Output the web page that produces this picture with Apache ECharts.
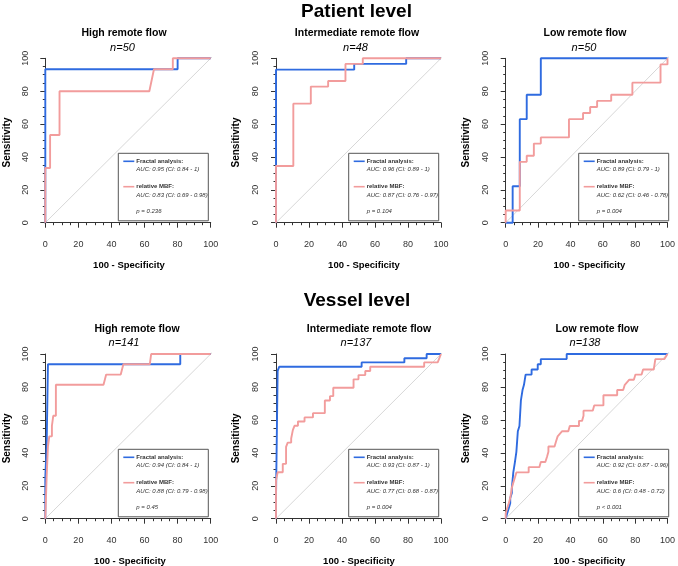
<!DOCTYPE html>
<html>
<head>
<meta charset="utf-8">
<script src="https://cdn.jsdelivr.net/npm/echarts@6/dist/echarts.min.js"></script>
<style>
  html, body { margin: 0; padding: 0; background: #fff; }
  #chart { width: 678px; height: 566px; }
</style>
</head>
<body>
<div id="chart"></div>
<script>
// ROC curves, [100 - specificity, sensitivity] in %
const patientHighFractal = [[0,0],[0,93.3],[80,93.3],[80,100],[100,100]];
const patientHighMbf = [[0,0],[0,33.3],[2.9,33.3],[2.9,53.3],[8.6,53.3],[8.6,80],[62.9,80],[65.7,93.3],[77.1,93.3],[77.1,100],[100,100]];

const patientIntFractal = [[0,0],[0,93.1],[47.4,93.1],[47.4,96.6],[78.9,96.6],[78.9,100],[100,100]];
const patientIntMbf = [[0,0],[0,34.5],[10.5,34.5],[10.5,72.4],[21.1,72.4],[21.1,82.8],[31.6,82.8],[31.6,86.2],[42.1,86.2],[42.1,96.6],[52.6,96.6],[52.6,100],[100,100]];

const patientLowFractal = [[0,0],[4.3,0],[4.3,22.2],[8.7,22.2],[8.7,63],[13,63],[13,77.8],[21.7,77.8],[21.7,100],[100,100]];
const patientLowMbf = [[0,0],[0,7.4],[8.7,7.4],[8.7,37],[13,37],[13,40.7],[17.4,40.7],[17.4,48.1],[21.7,48.1],[21.7,51.9],[39.1,51.9],[39.1,63],[47.8,63],[47.8,66.7],[52.2,66.7],[52.2,70.4],[56.5,70.4],[56.5,74.1],[65.2,74.1],[65.2,77.8],[78.3,77.8],[78.3,85.2],[95.7,85.2],[95.7,96.3],[100,96.3],[100,100]];

const vesselHighFractal = [[0,0],[0,25],[0.8,25],[0.8,43.8],[1.6,43.8],[1.6,93.8],[81.6,93.8],[81.6,100],[100,100]];
const vesselHighMbf = [[0,0],[0.8,0],[0.8,25],[1.6,25],[1.6,43.8],[2.4,43.8],[2.4,50],[4,50],[4,56.3],[4.8,56.3],[4.8,62.5],[6.4,62.5],[6.4,81.3],[35.2,81.3],[36.8,87.5],[45.6,87.5],[47.2,93.8],[63.2,93.8],[64,100],[100,100]];

const vesselIntFractal = [[0,0],[0,12.8],[1,12.8],[1,89.7],[2,89.7],[2,92.3],[51.9,92.3],[51.9,94.9],[77.8,94.9],[77.8,97.4],[91.3,97.4],[91.3,100],[100,100]];
const vesselIntMbf = [[0,0],[0,23.1],[1,23.1],[1,28.2],[4.1,28.2],[4.1,33.3],[6.1,33.3],[6.1,43.6],[7.1,43.6],[7.1,46.2],[9.2,46.2],[9.2,48.7],[10.2,48.7],[10.2,53.8],[11.2,53.8],[11.2,56.4],[13.3,56.4],[13.3,59],[17.3,59],[17.3,61.5],[22.4,61.5],[22.4,64.1],[29.6,64.1],[29.6,71.8],[32.7,71.8],[32.7,74.4],[34.7,74.4],[34.7,79.5],[47,79.5],[47,84.6],[50,84.6],[50,87.2],[54.1,87.2],[54.1,89.7],[57.1,89.7],[57.1,92.3],[89.8,92.3],[89.8,94.9],[98,94.9],[100,100]];

const vesselLowFractal = [[0,0],[0.9,3.1],[1.9,6.3],[2.8,9.4],[2.8,12.5],[3.8,15.6],[3.8,18.8],[4.7,18.8],[4.7,28.1],[5.7,28.1],[5.7,34.4],[6.6,34.4],[6.6,40.6],[7.5,40.6],[7.5,53.1],[8.5,53.1],[8.5,56.3],[9.4,56.3],[9.4,71.9],[10.4,71.9],[10.4,78.1],[11.3,78.1],[11.3,81.3],[12.3,81.3],[12.3,87.5],[16,87.5],[16,90.6],[19.8,90.6],[19.8,93.8],[21.7,93.8],[21.7,96.9],[37.7,96.9],[37.7,100],[100,100]];
const vesselLowMbf = [[0,0],[0,3.1],[0.9,6.3],[1.9,9.4],[2.8,12.5],[3.3,15.6],[3.8,18.8],[4.7,21.9],[5.7,25],[6.6,28.1],[14.2,28.1],[14.2,31.3],[20.8,31.3],[21.7,34.4],[24.5,34.4],[25.5,37.5],[26.4,40.6],[26.4,43.8],[30.2,43.8],[31.1,46.9],[32.1,50],[34.9,53.1],[38.7,53.1],[39.6,56.3],[45.3,56.3],[45.3,59.4],[47.2,59.4],[48.1,62.5],[48.1,65.6],[53.8,65.6],[54.7,68.8],[60.4,68.8],[60.4,75],[68.9,75],[68.9,78.1],[72.6,78.1],[73.6,81.3],[76.4,84.4],[79.2,84.4],[80.2,87.5],[84,87.5],[84.9,90.6],[91.5,90.6],[92.5,96.9],[98.1,96.9],[100,100]];

const diagonal = [-4, 104];

const panelTitles = ['High remote flow', 'Intermediate remote flow', 'Low remote flow', 'High remote flow', 'Intermediate remote flow', 'Low remote flow'];
const sampleSizes = ['n=50', 'n=48', 'n=50', 'n=141', 'n=137', 'n=138'];
const fractalAuc = ['AUC: 0.95 (CI: 0.84 - 1)', 'AUC: 0.96 (CI: 0.89 - 1)', 'AUC: 0.89 (CI: 0.79 - 1)', 'AUC: 0.94 (CI: 0.84 - 1)', 'AUC: 0.93 (CI: 0.87 - 1)', 'AUC: 0.92 (CI: 0.87 - 0.96)'];
const mbfAuc = ['AUC: 0.83 (CI: 0.69 - 0.98)', 'AUC: 0.87 (CI: 0.76 - 0.97)', 'AUC: 0.62 (CI: 0.46 - 0.78)', 'AUC: 0.88 (CI: 0.79 - 0.98)', 'AUC: 0.77 (CI: 0.68 - 0.87)', 'AUC: 0.6 (CI: 0.48 - 0.72)'];
const pValues = ['p = 0.236', 'p = 0.104', 'p = 0.004', 'p = 0.45', 'p = 0.004', 'p < 0.001'];
const fractalCurves = [patientHighFractal, patientIntFractal, patientLowFractal, vesselHighFractal, vesselIntFractal, vesselLowFractal];
const mbfCurves = [patientHighMbf, patientIntMbf, patientLowMbf, vesselHighMbf, vesselIntMbf, vesselLowMbf];

const FONT = '"Liberation Sans", Arial, Helvetica, sans-serif';
const BLUE = '#2f6be0';
const PINK = '#f29c9c';

// layout (pixels)
const cols = [{left: 45.3, width: 165.4}, {left: 276, width: 165}, {left: 505.7, width: 165.3}];
const rows = [{top: 58.3, height: 164.4}, {top: 354, height: 164.7}];
const titleX = [124, 357, 585, 137, 369, 597];
const nX = [122.5, 355.5, 584, 124, 356, 585];
const xNameX = [129, 364, 589.5, 130, 359, 589.5];
const yNameX = [7, 236, 466, 7, 236, 466];
const legendX = [118.3, 348.7, 578.7, 118.3, 348.7, 578.7];

const grids = [], xAxes = [], yAxes = [], series = [], graphics = [];

function txt(x, y, text, size, weight, style, color, rot) {
  return {
    type: 'text', x: x, y: y, rotation: rot || 0, z: 100,
    style: {
      text: text, fill: color || '#000', font: (style || 'normal') + ' ' + (weight || 'normal') + ' ' + size + 'px ' + FONT,
      textAlign: 'center', textVerticalAlign: 'middle'
    }
  };
}

for (let i = 0; i < 6; i++) {
  const r = Math.floor(i / 3), c = i % 3;
  const g = {left: cols[c].left, width: cols[c].width, top: rows[r].top, height: rows[r].height};
  grids.push(g);
  const axisCommon = {
    gridIndex: i, type: 'value', min: 0, max: 100, interval: 20,
    axisLine: {show: true, lineStyle: {color: '#333', width: 1}},
    axisTick: {show: true, length: 5, lineStyle: {color: '#333'}},
    minorTick: {show: true, splitNumber: 4, length: 2.5, lineStyle: {color: '#333'}},
    splitLine: {show: false}
  };
  xAxes.push(Object.assign({}, axisCommon, {
    position: 'bottom', offset: 6.5,
    axisLabel: {fontSize: 9, color: '#333', margin: 10.5, fontFamily: FONT}
  }));
  yAxes.push(Object.assign({}, axisCommon, {
    position: 'left', offset: 6,
    axisLabel: {fontSize: 9, color: '#333', margin: 9.5, rotate: 90, fontFamily: FONT}
  }));

  series.push({
    type: 'line', xAxisIndex: i, yAxisIndex: i, clip: false, symbol: 'none', silent: true,
    lineStyle: {color: '#cdcdcd', width: 0.8},
    data: [[diagonal[0], diagonal[0]], [diagonal[1], diagonal[1]]], z: 1
  });
  series.push({
    type: 'line', xAxisIndex: i, yAxisIndex: i, clip: false, symbol: 'none',
    lineStyle: {color: BLUE, width: 1.9}, data: fractalCurves[i], z: 2
  });
  series.push({
    type: 'line', xAxisIndex: i, yAxisIndex: i, clip: false, symbol: 'none',
    lineStyle: {color: PINK, width: 1.9}, data: mbfCurves[i], z: 3
  });

  const top = rows[r].top;
  const bottom = rows[r].top + rows[r].height;
  graphics.push(txt(titleX[i], top - 25, panelTitles[i], 10.5, 'bold'));
  graphics.push(txt(nX[i], top - 10.6, sampleSizes[i], 11, 'normal', 'italic'));
  graphics.push(txt(xNameX[i], bottom + 42.3, '100 - Specificity', 9.5, 'bold'));
  graphics.push(txt(yNameX[i], (top + bottom) / 2 + 2, 'Sensitivity', 10, 'bold', 'normal', '#000', Math.PI / 2));

  // legend box
  const bx = legendX[i], by = bottom - 69.4;
  graphics.push({type: 'rect', z: 90, shape: {x: bx, y: by, width: 90, height: 67.5},
    style: {fill: '#fff', stroke: '#555', lineWidth: 1}});
  graphics.push({type: 'line', z: 95, shape: {x1: bx + 5, y1: by + 8, x2: bx + 16, y2: by + 8},
    style: {stroke: BLUE, lineWidth: 1.6}});
  graphics.push({type: 'line', z: 95, shape: {x1: bx + 5, y1: by + 33.4, x2: bx + 16, y2: by + 33.4},
    style: {stroke: PINK, lineWidth: 1.6}});
  const lt = (dy, text, weight, style) => ({
    type: 'text', x: bx + 18, y: by + dy, z: 100,
    style: {text: text, fill: '#333', font: style + ' ' + weight + ' 6px ' + FONT, textAlign: 'left', textVerticalAlign: 'middle'}
  });
  graphics.push(lt(8, 'Fractal analysis:', 'bold', 'normal'));
  graphics.push(lt(16.3, fractalAuc[i], 'normal', 'italic'));
  graphics.push(lt(33.4, 'relative MBF:', 'bold', 'normal'));
  graphics.push(lt(41.7, mbfAuc[i], 'normal', 'italic'));
  graphics.push(lt(58, pValues[i], 'normal', 'italic'));
}

graphics.push(txt(356.5, 12, 'Patient level', 19, 'bold'));
graphics.push(txt(357, 301, 'Vessel level', 19, 'bold'));

const chart = echarts.init(document.getElementById('chart'));
chart.setOption({
  animation: false,
  backgroundColor: '#fff',
  grid: grids,
  xAxis: xAxes,
  yAxis: yAxes,
  series: series,
  graphic: graphics
});
</script>
</body>
</html>
